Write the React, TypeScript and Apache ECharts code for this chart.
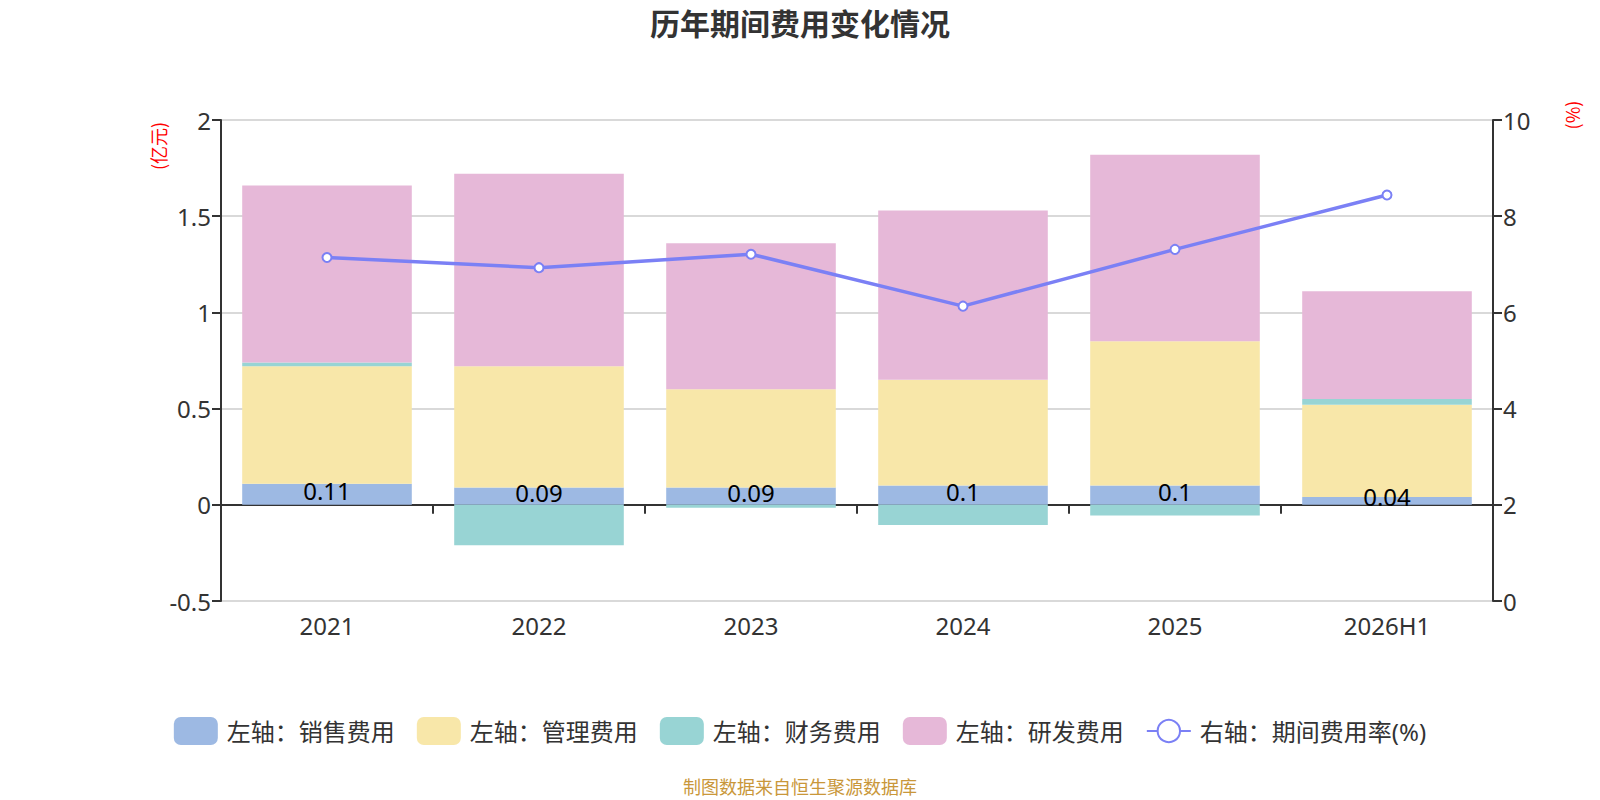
import React, { useEffect, useRef } from "react";
import * as echarts from "echarts";

const categories = ["2021", "2022", "2023", "2024", "2025", "2026H1"];
const salesExpense = [0.11, 0.09, 0.09, 0.1, 0.1, 0.04];
const adminExpense = [0.61, 0.63, 0.51, 0.55, 0.75, 0.48];
const financeExpense = [0.02, -0.21, -0.015, -0.105, -0.055, 0.03];
const rdExpense = [0.92, 1.0, 0.76, 0.88, 0.97, 0.56];
const expenseRate = [7.14, 6.93, 7.21, 6.13, 7.31, 8.44];

const leftTicks = { min: -0.5, max: 2, interval: 0.5 };
const rightTicks = { min: 0, max: 10, interval: 2 };

const FONT = "'Noto Sans', 'Noto Sans CJK SC', sans-serif";

export default function App() {
  const ref = useRef<HTMLDivElement>(null);

  useEffect(() => {
    if (!ref.current) return;
    const chart = echarts.init(ref.current, null, { renderer: "svg" });
    const axisColor = "#333";
    chart.setOption({
      animation: false,
      backgroundColor: "#fff",
      textStyle: { fontFamily: FONT },
      title: {
        text: "历年期间费用变化情况",
        left: "center",
        top: 2,
        textStyle: { fontSize: 30, fontWeight: "bold", color: "#333", fontFamily: "'Noto Sans CJK SC', sans-serif" },
      },
      grid: { left: 221, right: 107, top: 120, bottom: 199, containLabel: false },
      legend: {
        bottom: 50,
        left: "center",
        itemWidth: 44,
        itemHeight: 28,
        itemGap: 22,
        textStyle: { fontSize: 24, color: "#333", padding: [0, 0, 0, 4] },
        data: ["左轴：销售费用", "左轴：管理费用", "左轴：财务费用", "左轴：研发费用", "右轴：期间费用率(%)"],
      },
      xAxis: [
        {
          type: "category",
          data: categories,
          position: "bottom",
          axisLine: { show: false, onZero: false },
          axisTick: { show: false },
          axisLabel: { fontSize: 24, color: "#333", margin: 12 },
        },
        {
          type: "category",
          data: categories,
          position: "bottom",
          axisLine: { show: true, onZero: true, onZeroAxisIndex: 0, lineStyle: { color: axisColor, width: 2 } },
          axisTick: { show: true, length: 9, lineStyle: { color: axisColor, width: 2 } },
          axisLabel: { show: false },
          splitLine: { show: false },
        },
      ],
      yAxis: [
        {
          type: "value",
          min: leftTicks.min,
          max: leftTicks.max,
          interval: leftTicks.interval,
          axisLine: { show: true, lineStyle: { color: axisColor, width: 2 } },
          axisTick: { show: true, length: 9, lineStyle: { color: axisColor, width: 2 } },
          axisLabel: { fontSize: 24, color: "#333", margin: 10 },
          splitLine: { show: true, lineStyle: { color: "#ccc", width: 1.5 } },
        },
        {
          type: "value",
          min: rightTicks.min,
          max: rightTicks.max,
          interval: rightTicks.interval,
          axisLine: { show: true, lineStyle: { color: axisColor, width: 2 } },
          axisTick: { show: true, length: 9, lineStyle: { color: axisColor, width: 2 } },
          axisLabel: { fontSize: 24, color: "#333", margin: 10 },
          splitLine: { show: false },
        },
      ],
      series: [
        {
          name: "左轴：销售费用",
          type: "bar",
          stack: "total",
          barCategoryGap: "20%",
          data: salesExpense,
          itemStyle: { color: "#9db9e3" },
          label: { show: true, position: "inside", fontSize: 24, color: "#000", offset: [0, -4] },
        },
        {
          name: "左轴：管理费用",
          type: "bar",
          stack: "total",
          data: adminExpense,
          itemStyle: { color: "#f8e7a9" },
        },
        {
          name: "左轴：财务费用",
          type: "bar",
          stack: "total",
          data: financeExpense,
          itemStyle: { color: "#98d4d4" },
        },
        {
          name: "左轴：研发费用",
          type: "bar",
          stack: "total",
          data: rdExpense,
          itemStyle: { color: "#e6b8d8" },
        },
        {
          name: "右轴：期间费用率(%)",
          type: "line",
          yAxisIndex: 1,
          data: expenseRate,
          symbol: "emptyCircle",
          symbolSize: 9,
          lineStyle: { color: "#7b80f5", width: 3.5 },
          itemStyle: { color: "#7b80f5", borderWidth: 2 },
          z: 5,
        },
      ],
      graphic: [
        {
          type: "text",
          x: 158,
          y: 146,
          rotation: Math.PI / 2,
          style: {
            text: "(亿元)",
            fill: "#f00",
            fontSize: 18,
            fontFamily: "'Noto Sans CJK SC', sans-serif",
            align: "center",
            verticalAlign: "middle",
          },
        },
        {
          type: "text",
          x: 1572,
          y: 115,
          rotation: Math.PI / 2,
          style: {
            text: "(%)",
            fill: "#f00",
            fontSize: 18,
            fontFamily: "'Noto Sans CJK SC', sans-serif",
            align: "center",
            verticalAlign: "middle",
          },
        },
        {
          type: "text",
          x: 800,
          y: 786,
          style: {
            text: "制图数据来自恒生聚源数据库",
            fill: "#c9973a",
            fontSize: 18,
            fontFamily: "'Noto Sans CJK SC', sans-serif",
            align: "center",
            verticalAlign: "middle",
          },
        },
      ],
    });
    return () => chart.dispose();
  }, []);

  return (
    <div
      ref={ref}
      style={{ position: "fixed", left: 0, top: 0, width: 1600, height: 800 }}
    />
  );
}
